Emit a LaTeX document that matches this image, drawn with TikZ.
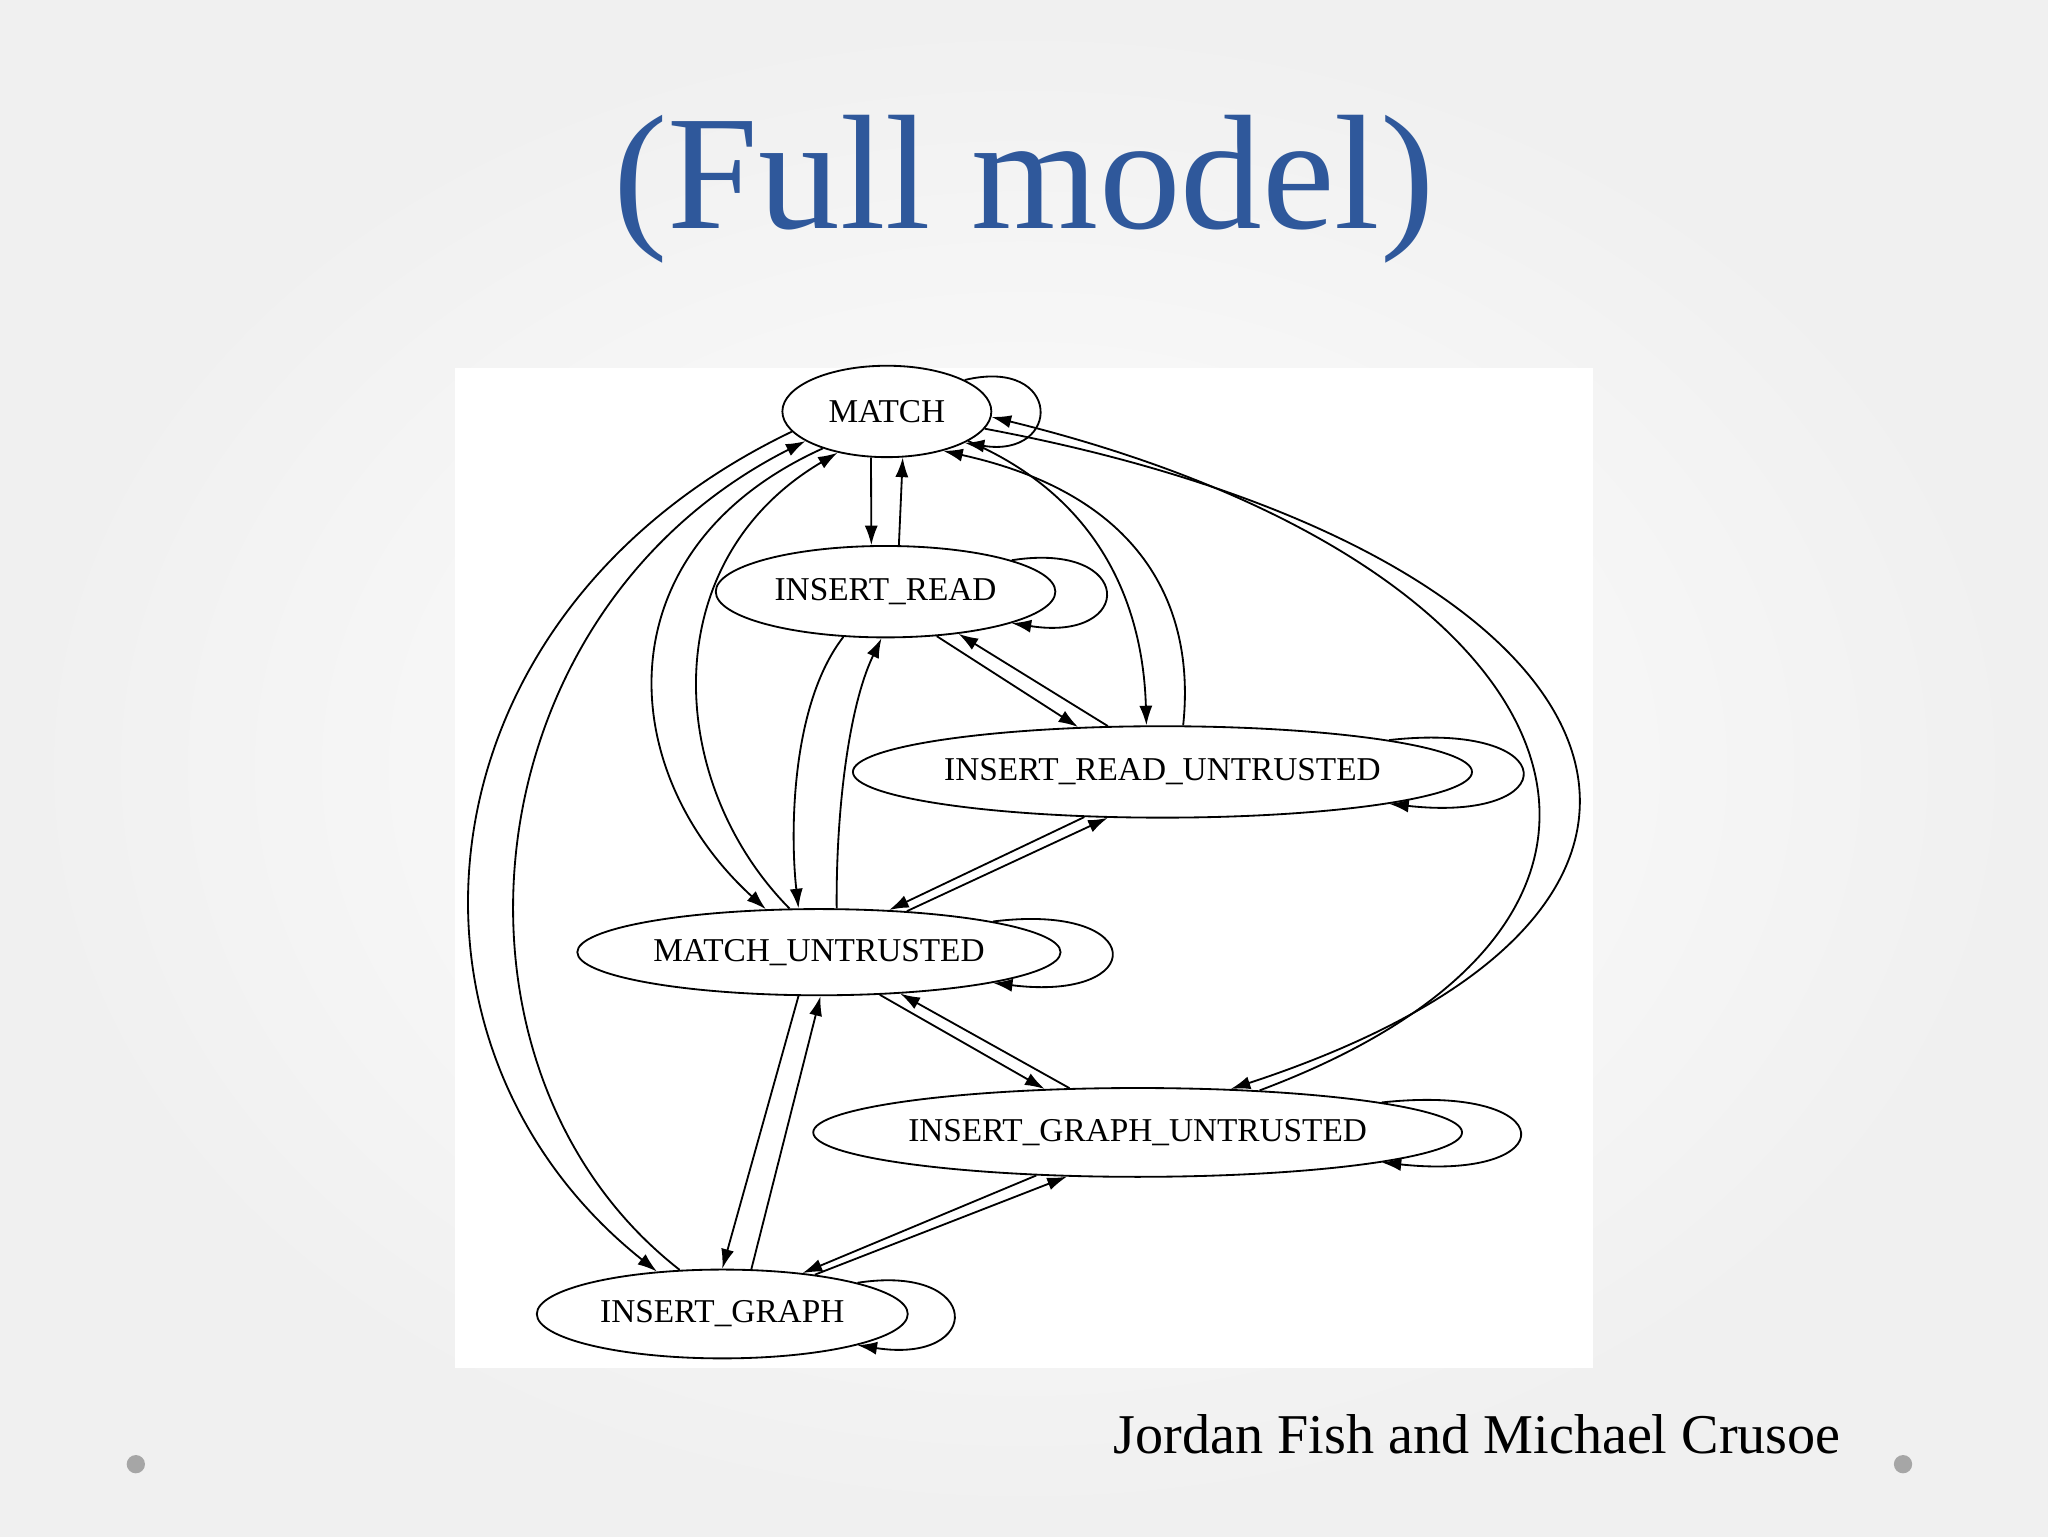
\documentclass[tikz,border=0pt]{standalone}
\usepackage{fontspec}
\setmainfont{Liberation Serif}
\usetikzlibrary{shapes.geometric,arrows.meta}
\definecolor{titleblue}{RGB}{47,88,155}
\begin{document}
\begin{tikzpicture}[x=1pt,y=-1pt,
  st/.style={ellipse,draw,line width=1.4pt,inner sep=0pt,font=\fontsize{25.5}{27}\selectfont},
  e/.style={draw,line width=1.4pt,-{Latex[length=15pt,width=10pt]}}]
\useasboundingbox (0,0) rectangle (1568,1176);
\shade[inner color=white,outer color=gray!12] (0,0) rectangle (1568,1176);
\fill[white] (348,282) rectangle (1220,1047);
\node[font=\fontsize{125}{130}\selectfont,text=titleblue] (title) at (784,145) {(Full model)};
\node[font=\fontsize{43}{45}\selectfont] (auth) at (1131,1098) {Jordan Fish and Michael Crusoe};
\fill[gray!70] (104,1121) circle (7) (1457,1121) circle (7);

\node[st,minimum width=160,minimum height=70] (M) at (679,315) {MATCH};
\node[st,minimum width=260,minimum height=70] (IR) at (678,453) {INSERT\_READ};
\node[st,minimum width=474,minimum height=70] (IRU) at (890,591) {INSERT\_READ\_UNTRUSTED};
\node[st,minimum width=370,minimum height=66] (MU) at (627,729) {MATCH\_UNTRUSTED};
\node[st,minimum width=492,minimum height=68] (IGU) at (871,867) {INSERT\_GRAPH\_UNTRUSTED};
\node[st,minimum width=284,minimum height=68] (IG) at (553,1006) {INSERT\_GRAPH};

% self loops
\draw[e] (M.22) .. controls +(75,-18) and +(75,12) .. (M.-22);
\draw[e] (IR.14) .. controls +(95,-15) and +(95,15) .. (IR.-14);
\draw[e] (IRU.8) .. controls +(135,-15) and +(135,15) .. (IRU.-8);
\draw[e] (MU.10) .. controls +(120,-15) and +(120,15) .. (MU.-10);
\draw[e] (IGU.7.6) .. controls +(140,-15) and +(140,15) .. (IGU.-7.6);
\draw[e] (IG.13) .. controls +(97,-15) and +(97,15) .. (IG.-13);

% straight-ish
\draw[e] (M.-109) -- (IR.107);
\draw[e] (IR.74) -- (M.-71);
\draw[e] (IR.-41) -- (IRU.152);
\draw[e] (IRU.140) -- (IR.-30);
\draw[e] (IRU.-150) -- (MU.31);
\draw[e] (MU.25) -- (IRU.-140);
\draw[e] (MU.-35) -- (IGU.155);
\draw[e] (IGU.147) -- (MU.-27);
\draw[e] (MU.-115) -- (IG.90);
\draw[e] (IG.57) -- (MU.-88);
\draw[e] (IGU.-157) -- (IG.27);
\draw[e] (IG.23) -- (IGU.-148);

% curves
\draw[e] (M.-168) .. controls (315,470) and (285,800) .. (IG.147);
\draw[e] (IG.134) .. controls (325,820) and (355,470) .. (M.-160);
\draw[e] (M.-150) .. controls (460,420) and (470,590) .. (MU.141);
\draw[e] (MU.124) .. controls (510,600) and (500,430) .. (M.-140);
\draw[e] (IR.-133) .. controls (605,540) and (605,640) .. (MU.115);
\draw[e] (MU.68) .. controls (640,620) and (650,540) .. (IR.-95);
\draw[e] (M.-20) .. controls (840,380) and (875,460) .. (IRU.109);
\draw[e] (IRU.66) .. controls (915,470) and (880,380) .. (M.-35);
\draw[e] (M.-10) .. controls (1245,420) and (1380,690) .. (IGU.25);
\draw[e] (IGU.19) .. controls (1325,700) and (1210,430) .. (M.-3);
\end{tikzpicture}
\end{document}
